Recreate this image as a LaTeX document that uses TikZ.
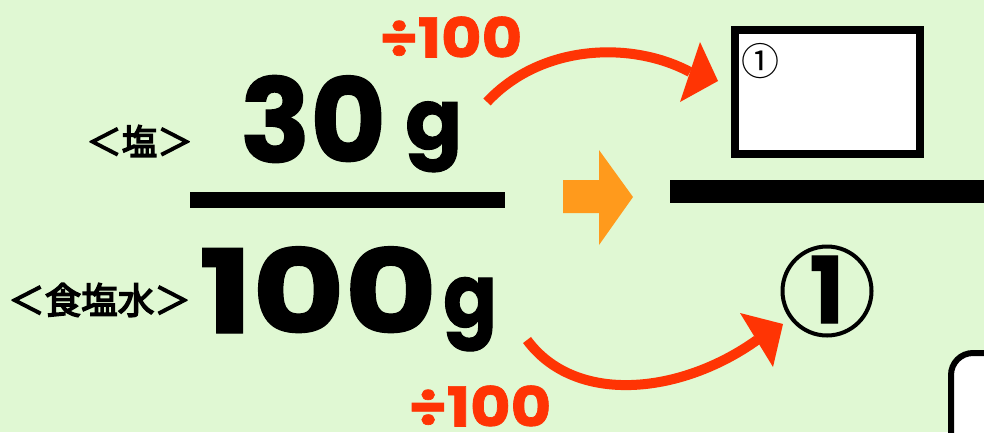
\documentclass[tikz,border=0pt]{standalone}
\usepackage{fontspec}
\newfontfamily\cjk{Noto Sans CJK JP}[AutoFakeBold=4]
\newfontfamily\pop{Poppins}[BoldFeatures={FakeBold=1.2}]
\definecolor{bg}{HTML}{E0F8D3}
\definecolor{redarrow}{HTML}{FF3404}
\definecolor{orangearrow}{HTML}{FF9A1C}
\tikzset{
  bigtxt/.style={inner sep=0pt, font=\pop\bfseries\fontsize{116}{116}\selectfont},
  gtxt/.style={inner sep=0pt, font=\pop\bfseries\fontsize{84}{84}\selectfont},
  jp/.style={inner sep=0pt, font=\cjk\bfseries\fontsize{35.5}{36}\selectfont},
  divtxt/.style={inner sep=0pt, text=redarrow, font=\pop\bfseries\fontsize{55}{55}\selectfont},
  curved/.style={draw=redarrow, line width=10pt},
  head/.style={fill=redarrow},
  bar/.style={draw=black, line width=16pt}
}
\begin{document}
\begin{tikzpicture}[x=1pt,y=-1pt]
\useasboundingbox (0,0) rectangle (984,432);
\fill[bg] (0,0) rectangle (984,432);

% labels
\node[jp, anchor=east] (salt) at (193,141) {＜塩＞};
\node[jp, anchor=east, font=\cjk\bfseries\fontsize{36.5}{37}\selectfont] (water) at (191,300) {＜食塩水＞};

% numbers
\node[bigtxt, anchor=base west] (n30) at (240,162) {30};
\node[gtxt, anchor=base west] (g30) at (405,149) {g};
\node[bigtxt, anchor=base west] (n100) at (199,333) {\scalebox{1.22}[1]{100}};
\node[gtxt, anchor=base west, font=\pop\bfseries\fontsize{88}{88}\selectfont] (g100) at (443,327) {\scalebox{0.9}[1]{g}};

% fraction bars
\coordinate (b1l) at (190,200);
\coordinate (b1r) at (505,200);
\draw[bar] (b1l) -- (b1r);
\coordinate (b2l) at (670,191.5);
\coordinate (b2r) at (984,191.5);
\draw[bar, line width=23pt] (b2l) -- (b2r);

% orange arrow
\fill[orangearrow] (563,180) -- (599,180) -- (599,150) -- (633,197) -- (599,245) -- (599,213) -- (563,213) -- cycle;

% answer box
\node[draw=black, line width=8pt, fill=white, minimum width=185pt, minimum height=124pt, inner sep=0pt] (box) at (827.5,92) {};
\node[inner sep=0pt, font=\cjk\fontsize{38}{38}\selectfont] (c1small) at (760,61) {①};
\node[draw=black, line width=4pt, circle, minimum size=89pt, inner sep=0pt] (c1big) at (827,291) {};
\node[inner sep=0pt, font=\pop\bfseries\fontsize{92}{92}\selectfont, anchor=base] (one) at (c1big.center |- 0,323) {1};

% red arrows
\coordinate (t0) at (487,102);
\coordinate (t1) at (690,72);
\draw[curved] (t0) .. controls (540,45) and (630,40) .. (t1);
\fill[head] (700,42) -- (718,81) -- (680,102) -- cycle;
\coordinate (u0) at (527,340);
\coordinate (u1) at (757,340);
\draw[curved] (u0) .. controls (575,405) and (680,395) .. (u1);
\fill[head] (740,313) -- (783,324) -- (773,367) -- cycle;

\node[divtxt] (d1) at (451,37) {\scalebox{1.13}[1]{÷100}};
\node[divtxt] (d2) at (480,406) {\scalebox{1.13}[1]{÷100}};

% partial box at bottom right
\draw[line width=6pt, fill=white, rounded corners=22pt] (951,353) rectangle (1020,470);
\end{tikzpicture}
\end{document}
